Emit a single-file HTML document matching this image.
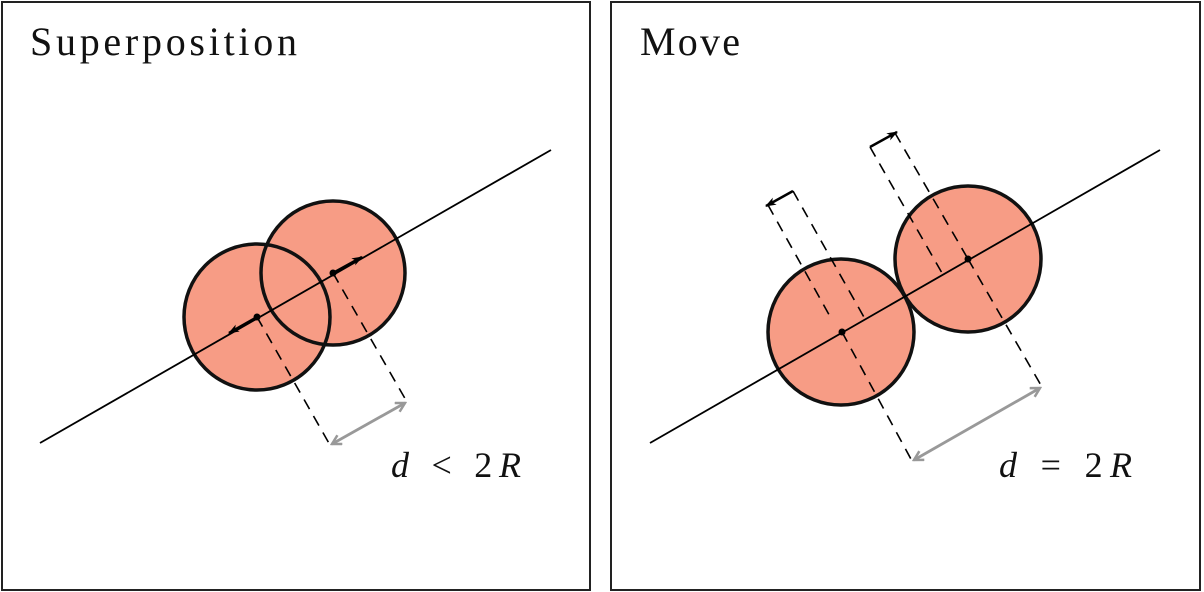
<!DOCTYPE html>
<html><head><meta charset="utf-8"><style>
html,body{margin:0;padding:0;background:#fff;}
svg{display:block;}
</style></head><body>
<svg width="1204" height="592" viewBox="0 0 1204 592">
<defs>
<marker id="ab" markerWidth="12" markerHeight="10" refX="10" refY="5" orient="auto" markerUnits="userSpaceOnUse"><path d="M0,1 L11,5 L0,9 L3,5 Z" fill="#000"/></marker>
<marker id="ag" markerWidth="12" markerHeight="12" refX="10" refY="6" orient="auto" markerUnits="userSpaceOnUse"><path d="M1,1 L10,6 L1,11" fill="none" stroke="#999" stroke-width="2.5"/></marker>
<marker id="ags" markerWidth="12" markerHeight="12" refX="2" refY="6" orient="auto" markerUnits="userSpaceOnUse"><path d="M11,1 L2,6 L11,11" fill="none" stroke="#999" stroke-width="2.5"/></marker>
</defs>
<g>
<rect x="2" y="2" width="588" height="588" fill="#fff" stroke="#222" stroke-width="2"/>
<text x="30" y="55" font-family="Liberation Serif, serif" font-size="40" textLength="267" lengthAdjust="spacing" fill="#111">Superposition</text>
<circle cx="257" cy="317" r="73" fill="#f79c85"/>
<circle cx="333" cy="273" r="72" fill="#f79c85" stroke="#111" stroke-width="3.5"/>
<circle cx="257" cy="317" r="73" fill="none" stroke="#111" stroke-width="3.5"/>
<line x1="40" y1="443" x2="551" y2="150" stroke="#000" stroke-width="1.8"/>
<line x1="257" y1="317" x2="330" y2="445" stroke="#000" stroke-width="1.6" stroke-dasharray="11,8"/>
<line x1="333" y1="273" x2="407" y2="402" stroke="#000" stroke-width="1.6" stroke-dasharray="11,8"/>
<line x1="257" y1="317" x2="229" y2="333" stroke="#000" stroke-width="2.5" marker-end="url(#ab)"/>
<line x1="333" y1="273" x2="362" y2="257" stroke="#000" stroke-width="2.5" marker-end="url(#ab)"/>
<circle cx="257" cy="317" r="3.5" fill="#000"/><circle cx="333" cy="273" r="3.5" fill="#000"/>
<line x1="332" y1="444" x2="405" y2="403" stroke="#999" stroke-width="2.8" marker-end="url(#ag)" marker-start="url(#ags)"/>
<text x="391" y="477" font-family="Liberation Serif, serif" font-size="36" textLength="130" lengthAdjust="spacing" fill="#111"><tspan font-style="italic">d</tspan> &lt; 2<tspan font-style="italic">R</tspan></text>
</g>
<g>
<rect x="611" y="2" width="589" height="588" fill="#fff" stroke="#222" stroke-width="2"/>
<text x="640" y="55" font-family="Liberation Serif, serif" font-size="40" textLength="100" lengthAdjust="spacing" fill="#111">Move</text>
<circle cx="841" cy="332" r="73" fill="#f79c85" stroke="#111" stroke-width="3.5"/>
<circle cx="968" cy="259" r="73" fill="#f79c85" stroke="#111" stroke-width="3.5"/>
<line x1="650" y1="443" x2="1160" y2="150" stroke="#000" stroke-width="1.8"/>
<g stroke="#000" stroke-width="1.6" stroke-dasharray="11,8" fill="none">
<line x1="768" y1="205" x2="832" y2="320"/>
<line x1="793" y1="191" x2="865" y2="319"/>
<line x1="842" y1="332" x2="912" y2="461"/>
<line x1="870" y1="147" x2="942" y2="273"/>
<line x1="895" y1="133" x2="968" y2="259"/>
<line x1="968" y1="259" x2="1042" y2="387"/>
</g>
<line x1="793" y1="191" x2="766" y2="206" stroke="#000" stroke-width="2.5" marker-end="url(#ab)"/>
<line x1="870" y1="147" x2="897" y2="132" stroke="#000" stroke-width="2.5" marker-end="url(#ab)"/>
<circle cx="842" cy="332" r="3.5" fill="#000"/><circle cx="968" cy="259" r="3.5" fill="#000"/>
<line x1="914" y1="460" x2="1040" y2="388" stroke="#999" stroke-width="2.8" marker-end="url(#ag)" marker-start="url(#ags)"/>
<text x="999" y="477" font-family="Liberation Serif, serif" font-size="36" textLength="133" lengthAdjust="spacing" fill="#111"><tspan font-style="italic">d</tspan> = 2<tspan font-style="italic">R</tspan></text>
</g>
</svg>
</body></html>
